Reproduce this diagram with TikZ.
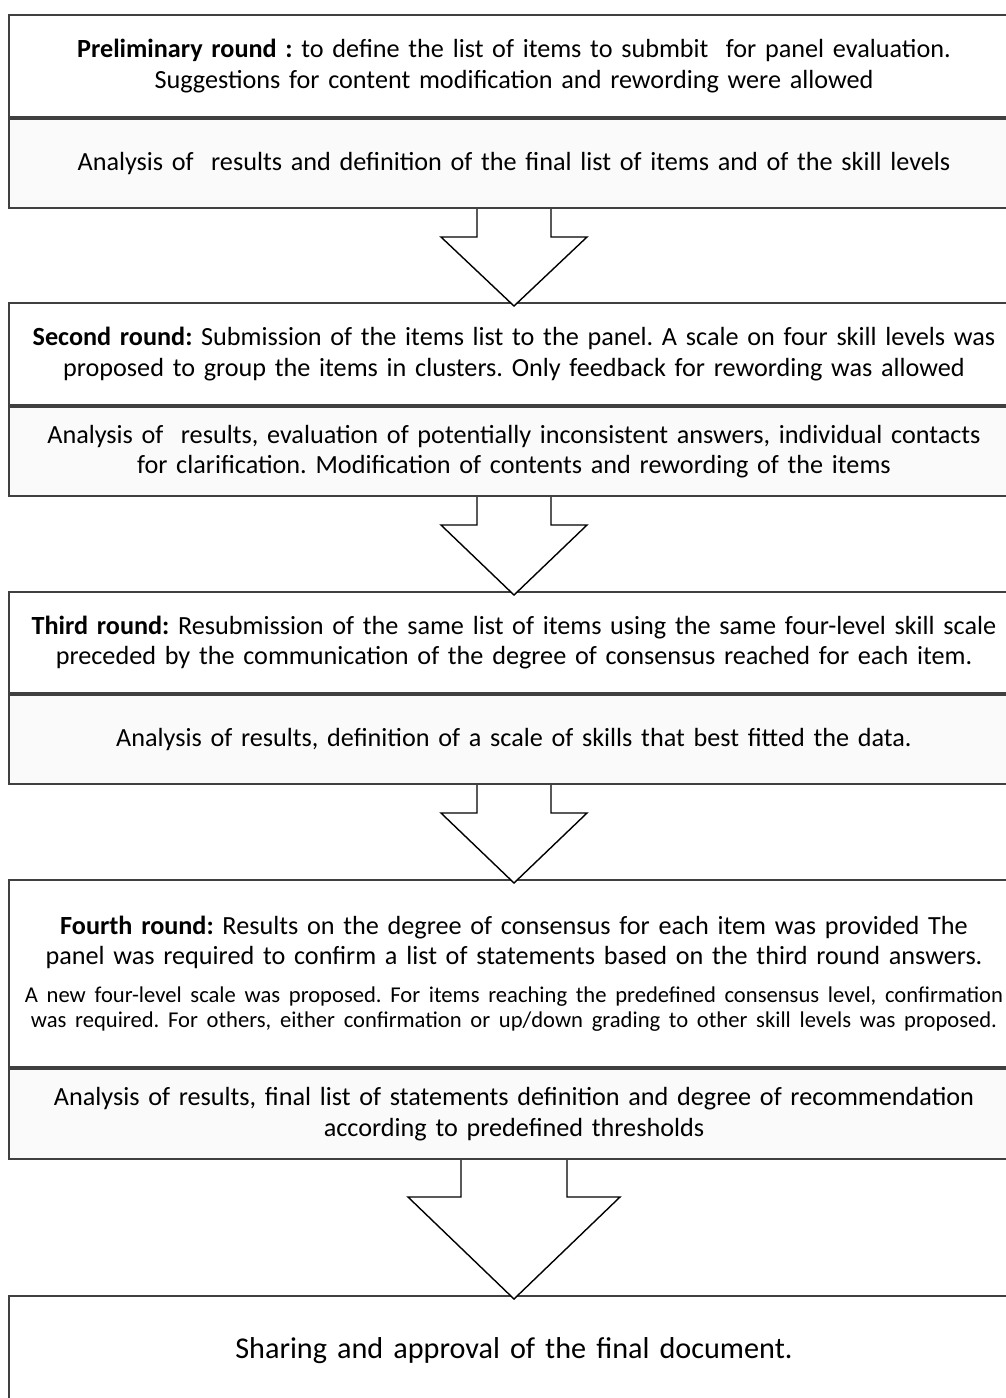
\documentclass[tikz,border=0pt]{standalone}
\usepackage{fontspec}
\setmainfont{Carlito}
\usetikzlibrary{positioning,calc}
\frenchspacing

\tikzset{
  roundbox/.style={draw=black!75, line width=2pt, fill=white, rectangle,
    anchor=north west, minimum width=1010pt, text width=1004pt, align=center,
    inner sep=0pt, font=\fontsize{26.2}{30.5}\selectfont},
  analysisbox/.style={roundbox, anchor=north, fill=black!2},
  blockarrow/.style={draw=black, line width=1.4pt, fill=white, line join=miter},
}
% block arrow from the bottom of #1 to the top of #2
\newcommand{\blockarrow}[5]{%
  \draw[blockarrow] ($(#1.south)+(-#3,0)$) -- ++(0,#5) -- ($(#1.south)+(-#4,#5)$)
    -- ($(#2.north)+(0,4)$) -- ($(#1.south)+(#4,#5)$) -- ($(#1.south)+(#3,#5)$)
    -- ($(#1.south)+(#3,0)$);}

\begin{document}
\begin{tikzpicture}[x=1pt, y=-1pt]
    \useasboundingbox (0,0) rectangle (1006,1398);
    \node[roundbox, minimum height=102pt] (prelim) at (8,14)
      {\textbf{Preliminary round :} to define the list of items to submbit\ \ for panel evaluation.\\
       Suggestions for content modification and rewording were allowed};
    \node[analysisbox, minimum height=89pt, below=0pt of prelim] (prelimAn)
      {Analysis of\ \ results and definition of the final list of items and of the skill levels};
    \node[roundbox, minimum height=102pt] (second) at (8,302)
      {\textbf{Second round:} Submission\ of the items list to the panel. A scale on four skill levels was\\
       proposed\ to group the items in clusters. Only feedback\ for rewording was allowed};
    \node[analysisbox, minimum height=89pt, below=0pt of second] (secondAn)
      {Analysis of\ \ results, evaluation of potentially inconsistent answers, individual contacts\\
       for clarification. Modification of contents and rewording of the items};
    \node[roundbox, minimum height=101pt] (third) at (8,591)
      {\textbf{Third round:} Resubmission\ of the same list of items using the same four-level skill scale\\
       preceded by the communication of the degree of consensus\ reached for each item.};
    \node[analysisbox, minimum height=89pt, below=0pt of third] (thirdAn)
      {Analysis of results, definition of a scale of skills that best fitted the data.};
    \node[roundbox, minimum height=187pt] (fourth) at (8,879)
      {\textbf{Fourth round:} Results on the degree of consensus\ for each item was provided The\\
       panel was required to confirm a list of statements based on the third round answers.\\[13pt]
       {\fontsize{22.6}{25}\selectfont A new four-level scale was proposed. For items reaching the predefined consensus level, confirmation\\
       was required. For others, either confirmation or up/down grading to other skill levels was proposed.\par}};
    \node[analysisbox, minimum height=90pt, below=0pt of fourth] (fourthAn)
      {Analysis of results, final list of statements definition and degree of recommendation\\
       according to predefined thresholds};
    \node[roundbox, minimum height=110pt, font=\fontsize{30.2}{34}\selectfont] (final) at (8,1295)
      {Sharing and approval of the final document.};
    % arrows between the rounds
    \blockarrow{prelimAn}{second}{37}{73}{28}
    \blockarrow{secondAn}{third}{37}{73}{28}
    \blockarrow{thirdAn}{fourth}{37}{73}{28}
    \blockarrow{fourthAn}{final}{53}{106}{37}
\end{tikzpicture}
\end{document}
